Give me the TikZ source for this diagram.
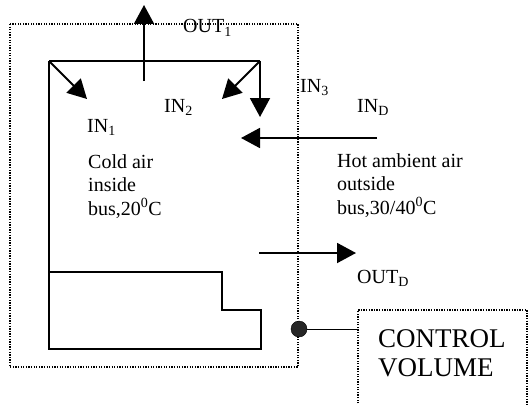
\documentclass[tikz,border=0pt]{standalone}
\usepackage{fontspec}
\setmainfont{Liberation Serif}
\usetikzlibrary{arrows.meta}
\begin{document}
\begin{tikzpicture}[x=1pt,y=-1pt,
  wall/.style={line width=1.9pt},
  flow/.style={line width=1.9pt,-{Triangle[length=19pt,width=20pt]}},
  cvline/.style={line width=1.5pt,dash pattern=on 1.3pt off 1.3pt},
  lbl/.style={anchor=base west,inner sep=0pt,font=\fontsize{20}{23.5}\selectfont,align=left},
  big/.style={anchor=base west,inner sep=0pt,font=\fontsize{27}{29}\selectfont,align=left}]
\useasboundingbox (0,0) rectangle (529,404);
% control volume boundary
\draw[cvline] (10,24) rectangle (298,367);
% bus outline
\coordinate (tl) at (49,61);
\coordinate (tr) at (260,61);
\draw[wall] (tl) -- (tr);
\draw[wall] (tl) -- (49,349) -- (261,349) -- (261,310) -- (222,310) -- (222,272) -- (49,272);
% flows
\coordinate (o1s) at (144,81);
\coordinate (o1e) at (144,5);
\draw[flow] (o1s) -- (o1e);
\coordinate (i1e) at (87,99);
\draw[flow] (tl) -- (i1e);
\coordinate (i2e) at (222,99);
\draw[flow] (tr) -- (i2e);
\coordinate (i3e) at (260,117);
\draw[flow] (tr) -- (i3e);
\coordinate (ids) at (377,138);
\coordinate (ide) at (241,138);
\draw[flow] (ids) -- (ide);
\coordinate (ods) at (259,253);
\coordinate (ode) at (356,253);
\draw[flow] (ods) -- (ode);
% labels
\node[lbl] (out1) at (183,33) {OUT\textsubscript{1}};
\node[lbl] (in1) at (87,132) {IN\textsubscript{1}};
\node[lbl] (in2) at (164,112) {IN\textsubscript{2}};
\node[lbl] (in3) at (300,92) {IN\textsubscript{3}};
\node[lbl] (ind) at (357,112) {IN\textsubscript{D}};
\node[lbl] (outd) at (357,283) {OUT\textsubscript{D}};
\node[lbl] (cold) at (88,215) {Cold air\\inside\\bus,20\textsuperscript{0}C};
\node[lbl] (hot) at (337,214) {Hot ambient air\\outside\\bus,30/40\textsuperscript{0}C};
% control volume callout
\node[circle,fill=black!85,draw=black,minimum size=16pt,inner sep=0pt] (dot) at (299,329) {};
\coordinate (cvl) at (358,329);
\draw[line width=0.9pt] (dot) -- (cvl);
\draw[cvline] (358,406) -- (358,310) -- (527,310) -- (527,406);
\node[big] (cv) at (378,376) {CONTROL\\VOLUME};
\end{tikzpicture}
\end{document}
